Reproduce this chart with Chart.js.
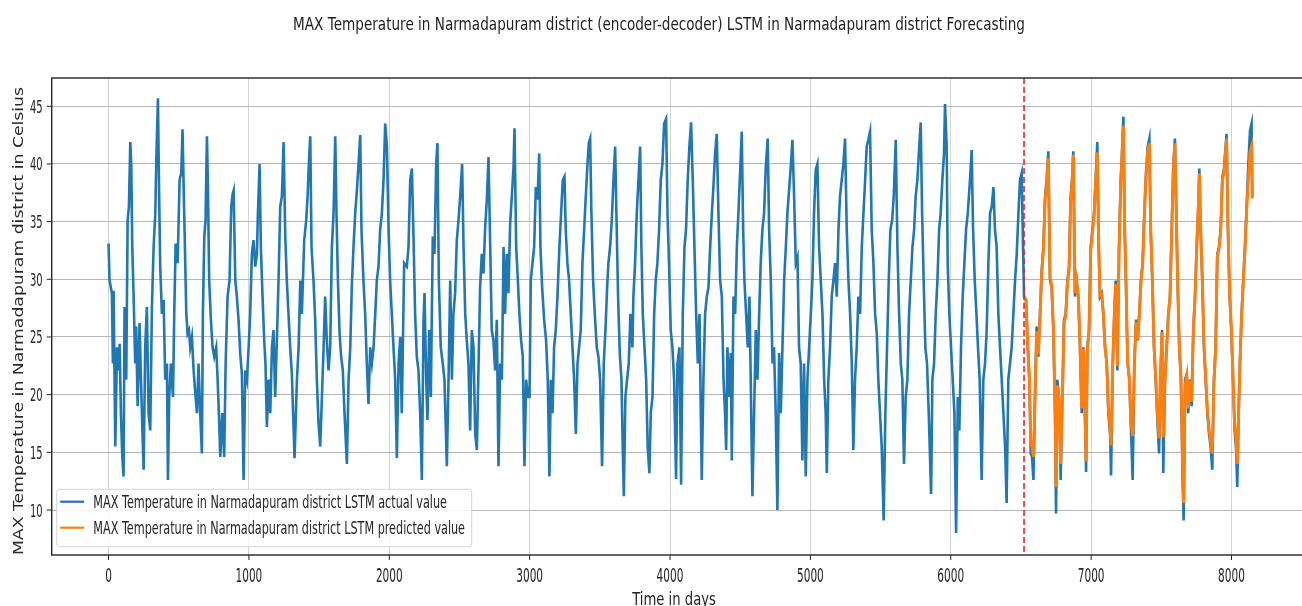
<!DOCTYPE html>
<html><head><meta charset="utf-8">
<script src="https://cdn.jsdelivr.net/npm/chart.js@4/dist/chart.umd.min.js"></script>
<style>html,body{margin:0;padding:0;background:#fff;overflow:hidden;width:1302px;height:606px}canvas{display:block}</style>
</head><body>
<canvas id="c" width="1320" height="606"></canvas>
<script>
const chartTitle = "MAX Temperature in Narmadapuram district (encoder-decoder) LSTM in Narmadapuram district Forecasting";
const xAxisTitle = "Time in days";
const yAxisTitle = "MAX Temperature in Narmadapuram district in Celsius";
const seriesNames = [
  "MAX Temperature in Narmadapuram district LSTM actual value",
  "MAX Temperature in Narmadapuram district LSTM predicted value"
];
const xTicks = [0, 1000, 2000, 3000, 4000, 5000, 6000, 7000, 8000];
const yTicks = [10, 15, 20, 25, 30, 35, 40, 45];
const splitDay = 6522;

// [day, max temperature] (peaks, troughs and main wiggles)
const actualSeries = [
[0,33.1],[7,29.9],[24,28.8],[31,22.7],[36,29.0],[48,15.5],[60,24.1],[72,22.1],[79,24.4],[88,18.4],[98,14.6],[107,12.9],[114,27.6],[126,21.3],[136,35.1],[145,36.3],[155,41.9],[162,39.8],[169,32.8],[178,28.8],[190,22.7],[197,25.9],[207,19.0],[221,26.2],[231,21.3],[242,16.6],[250,13.5],[261,24.1],[273,27.6],[285,18.4],[297,16.9],[309,27.6],[321,32.8],[333,35.7],[340,40.3],[352,45.7],[359,38.6],[368,31.1],[380,27.0],[392,28.2],[404,21.3],[416,22.7],[423,12.6],[432,19.8],[444,22.7],[459,19.8],[468,27.0],[478,33.1],[492,31.4],[506,38.6],[518,39.2],[527,43.0],[539,35.7],[554,27.0],[563,25.3],[573,25.6],[582,24.1],[594,25.0],[606,22.1],[618,20.1],[630,18.4],[641,22.7],[653,18.4],[665,14.9],[672,27.0],[682,33.7],[691,35.1],[701,42.4],[708,38.0],[717,29.9],[729,26.5],[741,24.1],[753,23.3],[767,24.1],[777,21.3],[786,18.4],[796,14.6],[810,18.4],[824,14.6],[834,22.7],[848,28.5],[862,29.9],[874,36.3],[884,37.4],[891,37.7],[903,29.9],[914,28.5],[926,26.5],[938,23.6],[950,21.8],[962,12.6],[974,22.1],[986,21.3],[998,24.1],[1009,27.0],[1021,32.2],[1033,33.4],[1045,31.1],[1057,32.2],[1064,35.7],[1076,40.0],[1085,32.8],[1097,28.5],[1109,24.7],[1118,22.7],[1128,17.2],[1140,21.3],[1152,18.4],[1164,24.1],[1175,25.6],[1187,19.8],[1199,24.7],[1211,29.9],[1223,36.3],[1235,37.2],[1247,41.9],[1259,33.7],[1270,29.9],[1282,27.0],[1294,24.1],[1306,21.8],[1325,14.5],[1342,21.3],[1354,24.1],[1366,29.9],[1377,27.0],[1394,33.4],[1408,35.1],[1418,37.2],[1427,40.0],[1437,42.4],[1446,32.8],[1460,29.9],[1472,26.5],[1484,21.3],[1496,17.5],[1508,15.5],[1520,19.8],[1532,24.1],[1543,28.5],[1555,24.7],[1567,22.1],[1579,24.1],[1591,32.8],[1603,35.7],[1615,42.4],[1624,35.7],[1634,29.9],[1646,25.3],[1657,23.3],[1669,22.1],[1681,18.4],[1698,14.0],[1710,21.3],[1722,24.1],[1733,29.4],[1745,32.8],[1757,35.7],[1769,37.7],[1781,40.0],[1793,42.5],[1802,34.3],[1816,29.9],[1828,27.0],[1840,22.7],[1852,19.2],[1864,24.1],[1876,22.7],[1888,24.1],[1900,27.0],[1911,29.9],[1923,31.1],[1935,34.3],[1947,35.7],[1959,38.6],[1971,43.5],[1983,41.5],[1995,34.3],[2006,29.9],[2018,27.0],[2030,24.1],[2042,21.3],[2054,14.5],[2066,22.7],
[2078,25.0],[2089,18.4],[2106,31.4],[2125,31.1],[2137,32.8],[2149,38.6],[2161,39.6],[2173,33.4],[2184,27.0],[2196,23.3],[2208,22.1],[2220,18.4],[2232,12.6],[2244,26.5],[2251,28.8],[2263,21.3],[2272,17.8],[2284,25.6],[2296,19.8],[2303,27.0],[2310,33.7],[2322,32.2],[2334,40.0],[2343,41.8],[2353,29.9],[2367,24.1],[2381,22.7],[2393,21.3],[2410,13.8],[2422,21.3],[2434,29.9],[2446,21.3],[2457,27.0],[2469,28.8],[2481,33.4],[2493,35.1],[2505,37.2],[2519,40.0],[2529,32.8],[2541,27.0],[2552,24.7],[2564,22.7],[2576,16.9],[2588,25.6],[2600,24.1],[2612,16.6],[2624,15.2],[2636,22.7],[2647,29.3],[2659,32.2],[2671,30.5],[2683,34.5],[2695,36.9],[2707,40.6],[2719,32.8],[2730,25.6],[2742,24.7],[2754,22.1],[2766,26.5],[2778,13.8],[2790,22.7],[2802,21.3],[2814,32.8],[2825,27.0],[2837,32.2],[2849,28.8],[2861,34.8],[2873,37.2],[2885,39.7],[2892,43.1],[2904,32.8],[2916,29.9],[2927,27.0],[2939,24.7],[2951,23.3],[2963,13.8],[2975,21.3],[2987,19.8],[2999,19.8],[3008,29.9],[3020,31.4],[3032,32.8],[3044,38.0],[3056,36.9],[3068,40.9],[3077,32.8],[3089,29.3],[3103,26.5],[3117,24.7],[3129,21.3],[3141,12.9],[3151,21.3],[3163,18.4],[3174,24.1],[3186,25.6],[3198,28.5],[3212,32.8],[3224,35.7],[3236,38.6],[3248,38.9],[3257,34.3],[3269,31.4],[3281,29.9],[3293,27.0],[3305,24.1],[3317,21.3],[3329,16.6],[3341,22.7],[3352,24.1],[3364,25.6],[3376,31.4],[3388,34.3],[3400,37.2],[3412,40.0],[3421,41.8],[3431,42.2],[3440,35.7],[3452,29.9],[3464,27.0],[3478,24.1],[3490,23.3],[3502,21.3],[3516,13.8],[3528,22.7],[3540,25.6],[3552,29.3],[3561,31.4],[3573,32.8],[3585,35.1],[3597,38.6],[3609,41.5],[3618,35.7],[3630,28.5],[3642,23.6],[3654,21.3],[3663,15.5],[3671,11.2],[3682,19.8],[3694,21.3],[3706,22.7],[3718,27.0],[3732,24.1],[3739,28.5],[3751,31.4],[3763,35.7],[3775,38.6],[3787,41.5],[3796,32.8],[3806,27.0],[3818,24.1],[3830,21.3],[3841,15.5],[3853,13.2],[3863,18.4],[3875,19.8],[3887,27.0],[3898,29.9],[3910,31.4],[3922,34.3],[3934,38.6],[3946,40.0],[3958,43.5],[3972,43.9],[3982,35.7],[3993,31.4],[4005,25.6],[4017,24.1],[4029,21.3],[4043,12.7],[4053,22.7],[4067,24.1],[4079,12.2],[4091,27.0],[4103,32.8],[4114,34.3],[4126,38.6],[4138,41.5],[4150,43.6],[4162,38.6],[4174,32.8],[4186,27.0],[4198,22.7],[4210,27.0],
[4226,12.6],[4238,21.3],[4250,27.0],[4262,28.5],[4274,29.3],[4286,32.8],[4298,35.7],[4309,38.0],[4321,40.9],[4333,42.6],[4345,35.7],[4357,29.9],[4369,28.5],[4381,21.3],[4392,18.4],[4400,15.2],[4409,24.1],[4421,19.8],[4433,23.6],[4440,14.3],[4452,28.5],[4464,27.0],[4476,32.8],[4487,35.7],[4499,39.2],[4511,42.8],[4521,34.3],[4530,29.9],[4542,27.0],[4554,24.1],[4566,28.5],[4575,21.3],[4587,11.2],[4599,18.4],[4611,25.6],[4623,21.3],[4635,27.0],[4646,31.4],[4658,34.3],[4670,35.7],[4682,39.7],[4696,42.2],[4706,34.3],[4718,29.9],[4730,22.7],[4741,24.1],[4753,18.4],[4765,10.0],[4777,23.6],[4789,18.4],[4801,24.1],[4813,29.9],[4825,32.8],[4836,35.7],[4848,37.7],[4860,39.7],[4872,42.1],[4884,37.2],[4896,31.4],[4908,31.9],[4919,24.1],[4931,22.7],[4943,14.3],[4955,22.7],[4967,12.9],[4979,21.3],[4991,24.1],[5003,27.0],[5014,29.9],[5026,35.7],[5038,39.5],[5050,40.0],[5062,32.8],[5074,29.9],[5086,27.0],[5098,21.3],[5109,18.4],[5117,13.2],[5128,21.3],[5140,24.1],[5152,28.5],[5164,29.9],[5176,31.4],[5188,28.5],[5200,34.3],[5211,37.2],[5223,38.6],[5235,40.0],[5247,42.2],[5259,34.3],[5271,29.9],[5283,27.0],[5295,22.7],[5306,15.2],[5318,21.3],[5330,24.1],[5342,28.5],[5354,27.0],[5366,32.8],[5378,35.7],[5390,38.6],[5401,41.5],[5413,42.1],[5425,42.8],[5437,34.3],[5449,31.4],[5461,27.0],[5473,25.3],[5484,21.3],[5496,18.4],[5508,15.5],[5522,9.1],[5534,18.4],[5546,24.1],[5558,29.9],[5570,34.3],[5582,35.1],[5594,37.2],[5608,42.1],[5620,32.8],[5632,27.0],[5644,22.7],[5655,21.3],[5667,14.0],[5679,19.8],[5691,21.3],[5703,27.0],[5715,29.9],[5727,32.8],[5739,34.3],[5750,37.2],[5762,38.6],[5774,41.2],[5786,43.6],[5796,35.7],[5807,29.9],[5819,24.1],[5831,22.7],[5843,18.4],[5860,11.4],[5869,21.3],[5881,22.7],[5893,27.0],[5905,29.9],[5917,34.3],[5928,35.7],[5940,38.6],[5952,40.9],[5959,45.2],[5971,41.5],[5978,31.4],[5990,27.0],[6002,24.1],[6014,21.3],[6026,18.4],[6038,8.0],[6050,19.8],[6061,16.9],[6073,24.1],[6085,28.5],[6097,31.4],[6109,34.3],[6121,35.7],[6137,38.6],[6149,41.2],[6159,34.3],[6171,29.9],[6183,27.0],[6194,24.1],[6206,21.3],[6220,12.6],[6232,21.3],[6244,22.7],[6256,25.6],[6268,31.4],[6280,35.7],[6292,36.3],[6304,38.0],[6315,34.3],[6327,32.8],[6339,27.0],[6351,24.1],[6363,21.3],[6375,18.4],[6387,15.5],[6398,10.6],[6410,21.3],[6422,22.7],[6434,24.1],[6446,27.0],[6458,29.9],[6470,32.2],[6482,35.7],[6493,38.6],[6505,39.2],[6515,32.8],
[6522,28.5],[6536,28.2],[6548,24.1],[6560,21.3],[6570,14.9],[6579,14.6],[6589,12.6],[6600,19.8],[6612,25.9],[6624,23.3],[6636,27.0],[6648,30.8],[6660,32.8],[6672,37.2],[6683,38.6],[6695,41.1],[6707,29.9],[6719,29.3],[6731,25.6],[6743,18.4],[6750,9.7],[6759,21.3],[6771,19.8],[6783,12.6],[6795,19.8],[6807,26.5],[6819,27.0],[6831,29.9],[6843,31.1],[6854,37.2],[6864,38.6],[6873,41.1],[6885,28.5],[6897,29.9],[6909,28.5],[6921,24.1],[6933,18.4],[6945,24.1],[6956,18.4],[6964,13.3],[6973,24.1],[6985,25.6],[6997,32.8],[7009,34.3],[7021,35.7],[7033,38.9],[7044,41.9],[7054,32.8],[7063,28.5],[7075,28.8],[7087,27.0],[7099,24.1],[7111,22.7],[7123,18.4],[7135,16.6],[7142,13.0],[7154,22.7],[7165,27.0],[7175,29.9],[7187,22.1],[7199,32.8],[7211,38.6],[7222,41.5],[7230,44.1],[7239,34.3],[7248,29.9],[7260,22.7],[7272,21.3],[7284,16.9],[7296,12.6],[7308,22.7],[7320,26.5],[7332,24.7],[7343,27.0],[7355,29.9],[7367,31.4],[7379,35.7],[7391,39.2],[7403,41.5],[7415,42.2],[7424,34.3],[7436,29.9],[7448,24.1],[7460,21.3],[7472,17.8],[7484,14.9],[7493,21.3],[7505,25.6],[7514,13.2],[7526,21.3],[7538,24.1],[7550,27.0],[7562,28.5],[7574,34.3],[7586,40.0],[7597,42.2],[7607,35.7],[7616,29.9],[7628,24.1],[7640,21.3],[7652,12.6],[7659,9.1],[7669,21.3],[7681,21.8],[7692,18.4],[7704,21.3],[7716,19.0],[7728,25.6],[7740,28.5],[7752,32.8],[7764,36.6],[7771,39.6],[7780,34.3],[7792,29.9],[7804,24.1],[7816,21.3],[7828,18.4],[7840,16.6],[7851,15.5],[7863,13.5],[7875,21.3],[7887,24.1],[7899,32.2],[7911,32.8],[7923,34.3],[7935,38.9],[7946,39.5],[7965,42.6],[7975,34.3],[7987,28.5],[7999,25.6],[8011,21.3],[8022,16.9],[8032,15.5],[8041,12.0],[8051,18.4],[8060,22.7],[8072,27.0],[8084,29.9],[8096,32.8],[8108,36.3],[8120,40.0],[8132,42.9],[8143,43.5],[8148,37.2]
];

const predictedSeries = [
[6522,28.5],[6536,28.2],[6548,24.5],[6560,21.5],[6570,16.0],[6579,15.5],[6589,14.6],[6600,19.5],[6612,25.5],[6624,23.5],[6636,26.8],[6648,30.5],[6660,32.5],[6672,36.8],[6683,38.2],[6695,40.5],[6707,30.2],[6719,29.5],[6731,25.8],[6743,19.0],[6750,12.0],[6759,20.8],[6771,19.8],[6783,14.0],[6795,19.5],[6807,26.2],[6819,26.8],[6831,29.6],[6843,30.8],[6854,36.8],[6864,38.2],[6873,40.8],[6885,28.8],[6897,29.8],[6909,28.5],[6921,24.3],[6933,18.8],[6945,24.0],[6956,18.8],[6964,14.2],[6973,23.8],[6985,25.5],[6997,32.5],[7009,34.0],[7021,35.5],[7033,38.5],[7044,41.0],[7054,33.0],[7063,28.6],[7075,28.7],[7087,27.0],[7099,24.2],[7111,22.8],[7123,18.8],[7135,17.2],[7142,15.6],[7154,22.5],[7165,26.8],[7175,29.6],[7187,22.5],[7199,32.5],[7211,38.2],[7222,41.2],[7230,43.3],[7239,34.5],[7248,30.0],[7260,22.8],[7272,21.5],[7284,17.5],[7296,16.4],[7308,22.5],[7320,26.3],[7332,24.8],[7343,26.8],[7355,29.8],[7367,31.3],[7379,35.5],[7391,38.8],[7403,41.0],[7415,41.8],[7424,34.5],[7436,30.0],[7448,24.3],[7460,21.5],[7472,18.3],[7484,16.2],[7493,21.3],[7505,25.4],[7514,16.3],[7526,21.2],[7538,24.0],[7550,26.8],[7562,28.4],[7574,34.0],[7586,39.6],[7597,41.8],[7607,35.5],[7616,30.0],[7628,24.3],[7640,21.5],[7652,14.0],[7659,10.6],[7669,20.8],[7681,21.6],[7692,18.8],[7704,21.2],[7716,19.4],[7728,25.4],[7740,28.4],[7752,32.6],[7764,36.3],[7771,39.2],[7780,34.5],[7792,30.0],[7804,24.3],[7816,21.5],[7828,18.8],[7840,17.0],[7851,16.0],[7863,14.9],[7875,21.0],[7887,24.0],[7899,32.0],[7911,32.6],[7923,34.2],[7935,38.6],[7946,39.2],[7965,42.2],[7975,34.5],[7987,28.6],[7999,25.6],[8011,21.5],[8022,17.5],[8032,16.2],[8041,14.0],[8051,18.6],[8060,22.6],[8072,26.8],[8084,29.8],[8096,32.6],[8108,36.0],[8120,38.5],[8132,41.0],[8143,41.5],[8148,37.0]
];

const seriesColors = ['#1f77b4', '#ff7f0e'];
const FONT = '"DejaVu Sans", "Liberation Sans", sans-serif';

function textWidth(ctx, s, size) {
  ctx.save(); ctx.font = size + 'px ' + FONT; const w = ctx.measureText(s).width; ctx.restore(); return w;
}
function drawText(ctx, s, x, y, size, sx, align, color) {
  ctx.save();
  ctx.font = size + 'px ' + FONT;
  ctx.fillStyle = color || '#1e1e1e';
  ctx.textAlign = align || 'left';
  ctx.textBaseline = 'alphabetic';
  ctx.translate(x, y);
  ctx.scale(sx, 1);
  ctx.fillText(s, 0, 0);
  ctx.restore();
}

const decor = {
  id: 'decor',
  afterDatasetsDraw(chart) {
    const {ctx, chartArea: a, scales: {x}} = chart;
    const px = x.getPixelForValue(splitDay);
    ctx.save();
    ctx.strokeStyle = '#e3262f';
    ctx.lineWidth = 1.6;
    ctx.setLineDash([6, 3]);
    ctx.beginPath(); ctx.moveTo(px, a.top); ctx.lineTo(px, a.bottom); ctx.stroke();
    ctx.restore();
  },
  afterDraw(chart) {
    const {ctx, chartArea: a, scales: {x, y}} = chart;
    ctx.save();
    // legend
    const lx = a.left + 5, ly = a.bottom - 65.7, lw = 415, lh = 57.4, r = 3;
    ctx.fillStyle = 'rgba(255,255,255,0.85)';
    ctx.strokeStyle = '#d6d6d6';
    ctx.lineWidth = 1;
    ctx.beginPath();
    ctx.moveTo(lx + r, ly); ctx.lineTo(lx + lw - r, ly); ctx.quadraticCurveTo(lx + lw, ly, lx + lw, ly + r);
    ctx.lineTo(lx + lw, ly + lh - r); ctx.quadraticCurveTo(lx + lw, ly + lh, lx + lw - r, ly + lh);
    ctx.lineTo(lx + r, ly + lh); ctx.quadraticCurveTo(lx, ly + lh, lx, ly + lh - r);
    ctx.lineTo(lx, ly + r); ctx.quadraticCurveTo(lx, ly, lx + r, ly);
    ctx.closePath(); ctx.fill(); ctx.stroke();
    const rowY = [ly + 12.4, ly + 38.4];
    const textW = [353.7, 371.7];
    seriesNames.forEach((name, i) => {
      ctx.strokeStyle = seriesColors[i];
      ctx.lineWidth = 2.2;
      ctx.setLineDash([]);
      ctx.beginPath(); ctx.moveTo(lx + 3.5, rowY[i]); ctx.lineTo(lx + 27.5, rowY[i]); ctx.stroke();
      const sx = textW[i] / textWidth(ctx, name, 16.9);
      drawText(ctx, name, lx + 36.6, rowY[i] + 6.6, 16.9, sx, 'left', '#262626');
    });
    // spines
    ctx.strokeStyle = '#262626';
    ctx.lineWidth = 1.4;
    ctx.strokeRect(a.left, a.top, a.right - a.left, a.bottom - a.top);
    // tick marks
    ctx.lineWidth = 1;
    ctx.beginPath();
    x.ticks.forEach(t => { const p = x.getPixelForValue(t.value); ctx.moveTo(p, a.bottom); ctx.lineTo(p, a.bottom + 5); });
    y.ticks.forEach(t => { const p = y.getPixelForValue(t.value); ctx.moveTo(a.left - 5, p); ctx.lineTo(a.left, p); });
    ctx.stroke();
    // tick labels
    x.ticks.forEach(t => drawText(ctx, String(t.value), x.getPixelForValue(t.value), a.bottom + 26.5, 19.5, 0.54, 'center', '#262626'));
    y.ticks.forEach(t => drawText(ctx, String(t.value), a.left - 9, y.getPixelForValue(t.value) + 6.5, 17.5, 0.57, 'right', '#262626'));
    // title
    drawText(ctx, chartTitle, 659, 29.7, 16.9, 732 / textWidth(ctx, chartTitle, 16.9), 'center', '#1e1e1e');
    // x axis title
    drawText(ctx, xAxisTitle, 674, 604.5, 16.9, 0.78, 'center', '#1e1e1e');
    // y axis title (rotated)
    ctx.save();
    ctx.font = '16.6px ' + FONT;
    ctx.fillStyle = '#2a2a2a';
    const m = ctx.measureText(yAxisTitle).width;
    ctx.translate(23.3, 321);
    ctx.rotate(-Math.PI / 2);
    ctx.scale(468 / m, 0.86);
    ctx.textAlign = 'center';
    ctx.textBaseline = 'alphabetic';
    ctx.fillText(yAxisTitle, 0, 0);
    ctx.restore();
    ctx.restore();
  }
};

new Chart(document.getElementById('c'), {
  type: 'line',
  data: {
    datasets: [
      {
        label: seriesNames[0],
        data: actualSeries.map(([d, t]) => ({x: d, y: t})),
        borderColor: seriesColors[0],
        borderWidth: 2.6,
        pointRadius: 0,
        tension: 0,
        fill: false,
        order: 2
      },
      {
        label: seriesNames[1],
        data: predictedSeries.map(([d, t]) => ({x: d, y: t})),
        borderColor: seriesColors[1],
        borderWidth: 3,
        pointRadius: 0,
        tension: 0,
        fill: false,
        order: 1
      }
    ]
  },
  options: {
    responsive: false,
    animation: false,
    devicePixelRatio: 1,
    layout: {padding: {top: 78, right: 10.6, left: 0, bottom: 0}},
    plugins: {legend: {display: false}, tooltip: {enabled: false}, title: {display: false}},
    scales: {
      x: {
        type: 'linear', min: -405, max: 8555,
        afterBuildTicks: s => { s.ticks = xTicks.map(v => ({value: v})); },
        afterFit: s => { s.height = 51; },
        ticks: {display: false},
        grid: {color: '#d2d2d2', lineWidth: 1, drawTicks: false},
        border: {display: false}
      },
      y: {
        type: 'linear', min: 6.1, max: 47.45,
        afterBuildTicks: s => { s.ticks = yTicks.map(v => ({value: v})); },
        afterFit: s => { s.width = 51.7; },
        ticks: {display: false},
        grid: {color: '#b6b6b6', lineWidth: 1, drawTicks: false},
        border: {display: false}
      }
    }
  },
  plugins: [decor]
});
</script>
</body></html>
